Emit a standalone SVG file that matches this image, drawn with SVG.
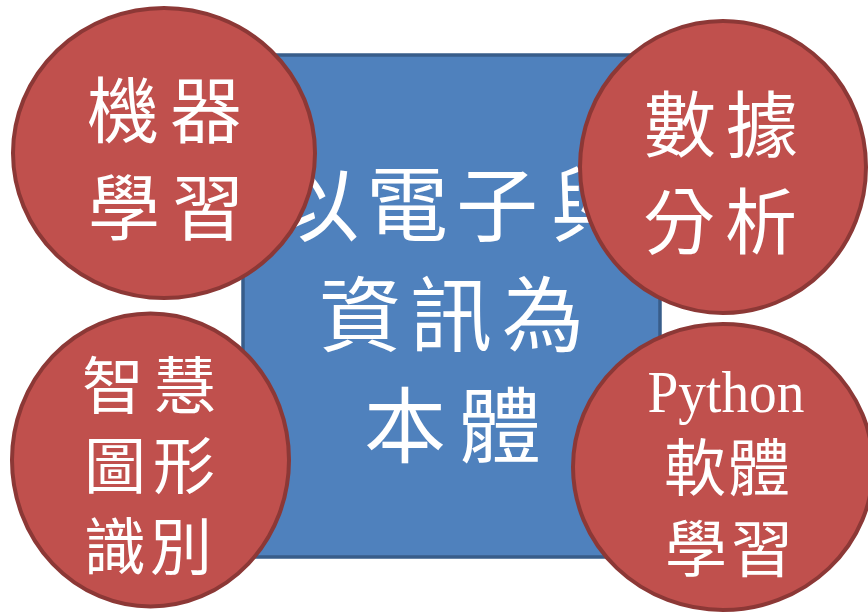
<svg xmlns="http://www.w3.org/2000/svg" width="868" height="613" viewBox="0 0 868 613">
<style>
.bg{fill:#ffffff}
.box{fill:#4f81bd;stroke:#385d8a;stroke-width:3.5}
.c{fill:#c0504d;stroke:#8c3836;stroke-width:4}
.t{fill:#ffffff;font-family:"Noto Sans CJK TC","Noto Sans CJK SC",serif;text-anchor:middle}
.lat{fill:#ffffff;font-family:"Liberation Serif","DejaVu Serif",serif;text-anchor:middle}
</style>
<rect class="bg" x="0" y="0" width="868" height="613"/>
<g id="center">
<rect class="box" x="243" y="55" width="417" height="502"/>
<text class="t" font-size="82"><tspan x="318 407 497 592" y="235">以電子與</tspan><tspan x="360 451 543" y="345">資訊為</tspan><tspan x="405 500" y="456">本體</tspan></text>
</g>
<g id="connectors"></g>
<g id="ml">
<ellipse class="c" cx="164" cy="153" rx="151" ry="145"/>
<text class="t" font-size="72"><tspan x="123 206" y="137">機器</tspan><tspan x="124 208" y="234">學習</tspan></text>
</g>
<g id="da">
<ellipse class="c" cx="723" cy="167" rx="143" ry="146"/>
<text class="t" font-size="72"><tspan x="680 762" y="151">數據</tspan><tspan x="679 761" y="248">分析</tspan></text>
</g>
<g id="ir">
<ellipse class="c" cx="150.5" cy="460" rx="138.5" ry="146.5"/>
<text class="t" font-size="62"><tspan x="113 185" y="409">智慧</tspan><tspan x="115 184" y="489">圖形</tspan><tspan x="115 181" y="570">識別</tspan></text>
</g>
<g id="py">
<ellipse class="c" cx="723" cy="467" rx="150" ry="143"/>
<text class="lat" font-size="59" x="726" y="412" textLength="157" lengthAdjust="spacingAndGlyphs">Python</text>
<text class="t" font-size="62"><tspan x="695 759" y="491">軟體</tspan><tspan x="696 762" y="572">學習</tspan></text>
</g>
</svg>
